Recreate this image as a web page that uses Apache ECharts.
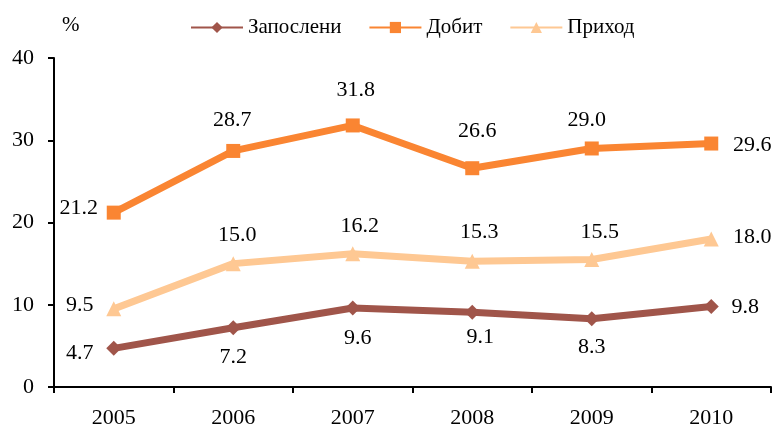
<!DOCTYPE html>
<html><head><meta charset="utf-8">
<script src="https://cdn.jsdelivr.net/npm/echarts@6/dist/echarts.min.js"></script>
<style>html,body{margin:0;padding:0;background:#fff}#c{width:772px;height:432px}</style>
</head><body><div id="c"></div>
<script>
var categories = ['2005','2006','2007','2008','2009','2010'];
var zaposleni = [4.7, 7.2, 9.6, 9.1, 8.3, 9.8];
var dobit = [21.2, 28.7, 31.8, 26.6, 29.0, 29.6];
var prihod = [9.5, 15.0, 16.2, 15.3, 15.5, 18.0];
var seriesNames = ['Запослени', 'Добит', 'Приход'];

// label offsets (layout only)
var offZ = [[-34,5],[0,29],[5,30],[8,25],[0,28],[34,1]];
var offD = [[-35,-4],[-1,-31],[3,-35],[5,-37],[-5,-28],[41,2]];
var offP = [[-34,-4],[4,-28],[7,-28],[7,-29],[8,-27],[41,-2]];

var FONT = '"Liberation Serif","Times New Roman",serif';
function mk(vals, offs){
  return vals.map(function(v,i){
    return {value:v, label:{offset:offs[i]}};
  });
}
function ser(name, vals, offs, color, symbol, size){
  return {
    name:name, type:'line', data:mk(vals,offs),
    symbol:symbol, symbolSize:size, showAllSymbol:true,
    lineStyle:{color:color, width:7},
    itemStyle:{color:color},
    label:{show:true, position:'inside', color:'#000', fontFamily:FONT, fontSize:22,
      formatter:function(p){return p.value.toFixed(1);}},
    emphasis:{disabled:true}, animation:false
  };
}
var chart = echarts.init(document.getElementById('c'), null, {renderer:'canvas'});
chart.setOption({
  animation:false,
  title:{text:'%', left:57, top:10, textStyle:{fontFamily:FONT, fontSize:21, fontWeight:'normal', color:'#000'}},
  legend:{left:185, top:12, itemWidth:52, itemHeight:14, itemGap:27,
    textStyle:{fontFamily:FONT, fontSize:21, color:'#000'}, data:seriesNames},
  grid:{left:54, right:1, top:58, bottom:45},
  xAxis:{type:'category', data:categories, boundaryGap:true,
    axisLine:{lineStyle:{color:'#000', width:2}},
    axisTick:{show:true, length:6, lineStyle:{color:'#000', width:2}},
    axisLabel:{fontFamily:FONT, fontSize:22, color:'#000', margin:20},
    splitLine:{show:false}},
  yAxis:{type:'value', min:0, max:40, interval:10,
    axisLine:{show:true, lineStyle:{color:'#000', width:2}},
    axisTick:{show:true, length:6, lineStyle:{color:'#000', width:2}},
    axisLabel:{fontFamily:FONT, fontSize:22, color:'#000', margin:20},
    splitLine:{show:false}},
  series:[
    ser(seriesNames[0], zaposleni, offZ, '#A0554A', 'diamond', 15),
    ser(seriesNames[1], dobit, offD, '#FA8532', 'rect', 14),
    ser(seriesNames[2], prihod, offP, '#FEC893', 'triangle', 15)
  ]
});
</script></body></html>
